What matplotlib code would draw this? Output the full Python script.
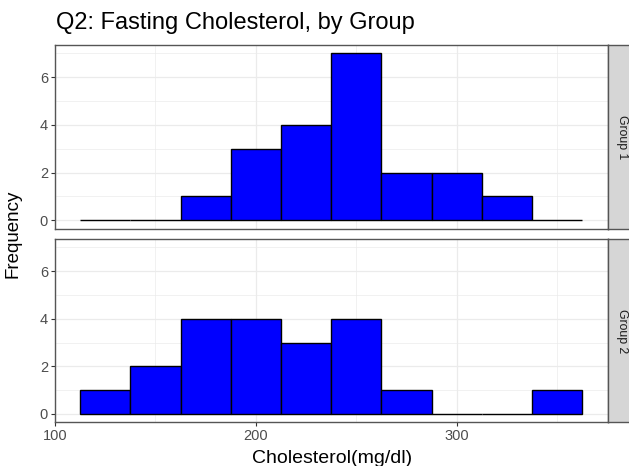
import matplotlib
matplotlib.use("Agg")
import matplotlib.pyplot as plt
from matplotlib.ticker import MultipleLocator

plt.rcParams['font.family'] = ['Liberation Sans', 'DejaVu Sans']

# ---- data ----
bin_centers = [125, 150, 175, 200, 225, 250, 275, 300, 325, 350]
bin_width = 25
group1_counts = [0, 0, 1, 3, 4, 7, 2, 2, 1, 0]
group2_counts = [1, 2, 4, 4, 3, 4, 1, 0, 0, 1]
group_labels = ["Group 1", "Group 2"]
x_ticks = [100, 200, 300]
y_ticks = [0, 2, 4, 6]

title = "Q2: Fasting Cholesterol, by Group"
xlabel = "Cholesterol(mg/dl)"
ylabel = "Frequency"

W, H = 629, 466
fig = plt.figure(figsize=(W / 100, H / 100), dpi=100)

px_left, px_right = 55, 607.5
panels_px = [(45, 228.7), (239, 422.3)]
strip_w = 28

border_col = "#555555"
grid_col = "#EBEBEB"

for i, (counts, lab) in enumerate(zip([group1_counts, group2_counts], group_labels)):
    top, bot = panels_px[i]
    ax = fig.add_axes([px_left / W, 1 - bot / H, (px_right - px_left) / W, (bot - top) / H])
    ax.bar(bin_centers, counts, width=bin_width, color="#0000FF",
           edgecolor="black", linewidth=1.0, zorder=3)
    ax.set_xlim(100, 375)
    ax.set_ylim(-0.35, 7.35)
    ax.xaxis.set_major_locator(MultipleLocator(100))
    ax.xaxis.set_minor_locator(MultipleLocator(50))
    ax.yaxis.set_major_locator(MultipleLocator(2))
    ax.yaxis.set_minor_locator(MultipleLocator(1))
    ax.set_yticks(y_ticks)
    ax.grid(which="major", color=grid_col, linewidth=0.9, zorder=0)
    ax.grid(which="minor", color=grid_col, linewidth=0.5, zorder=0)
    ax.set_axisbelow(True)
    for s in ax.spines.values():
        s.set_color(border_col)
        s.set_linewidth(1.0)
        s.set_zorder(4)
    ax.tick_params(axis="y", which="major", length=3, width=0.8, color="#333333",
                   labelsize=10.5, labelcolor="#4D4D4D", pad=2)
    ax.tick_params(which="minor", length=0)
    if i == 0:
        ax.tick_params(axis="x", which="major", length=0, labelbottom=False)
    else:
        ax.set_xticks(x_ticks)
        ax.tick_params(axis="x", which="major", length=3, width=0.8, color="#333333",
                       labelsize=10.5, labelcolor="#4D4D4D", pad=2)
    # strip
    sax = fig.add_axes([px_right / W, 1 - bot / H, strip_w / W, (bot - top) / H])
    sax.set_facecolor("#D6D6D6")
    sax.set_xticks([])
    sax.set_yticks([])
    for s in sax.spines.values():
        s.set_color(border_col)
        s.set_linewidth(1.0)
    fig.text(621.7 / W, 1 - (top + bot) / 2 / H, lab, rotation=-90,
             ha="center", va="center", fontsize=8.8, color="#1A1A1A")

fig.text(56 / W, 1 - 29.3 / H, title, ha="left", va="baseline",
         fontsize=17, color="black")
fig.text(332 / W, 1 - 463 / H, xlabel, ha="center", va="baseline",
         fontsize=14, color="black")
fig.text(13 / W, 1 - 233.7 / H, ylabel, ha="center", va="center",
         rotation=90, fontsize=13.5, color="black")

fig.savefig("out.png", dpi=100)
